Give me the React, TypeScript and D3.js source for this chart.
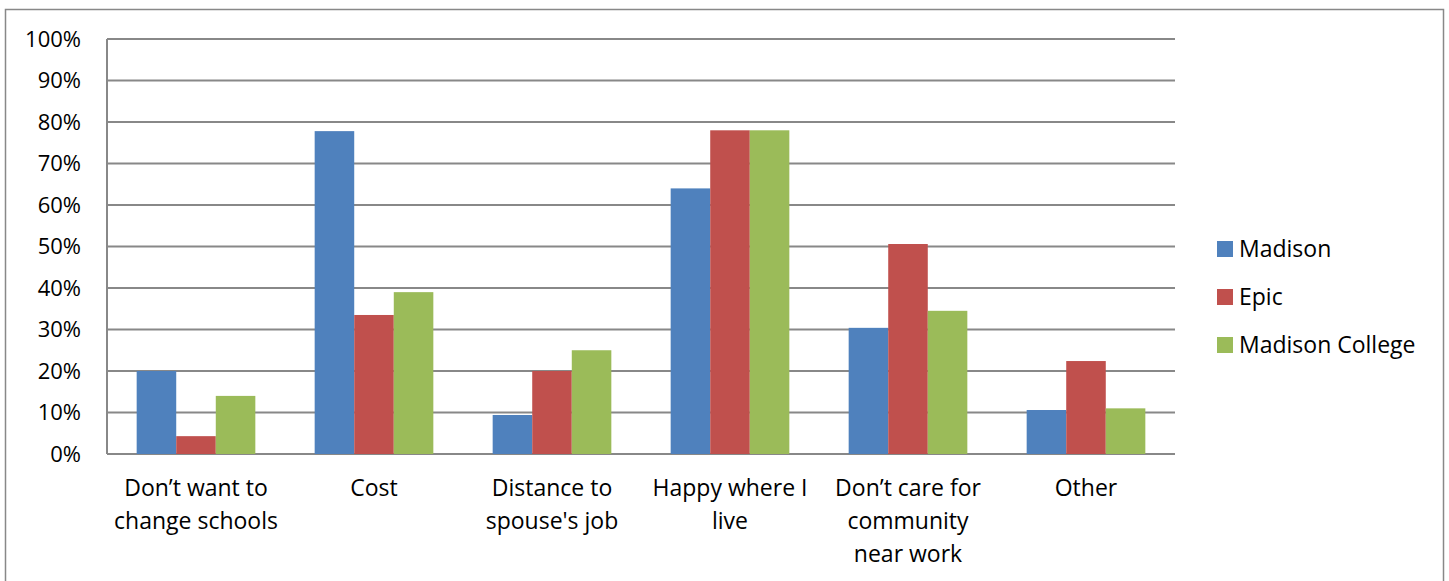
import React from "react";
import * as d3 from "d3";

const categories = [
  ["Don’t want to", "change schools"],
  ["Cost"],
  ["Distance to", "spouse's job"],
  ["Happy where I", "live"],
  ["Don’t care for", "community", "near work"],
  ["Other"],
];
const seriesNames = ["Madison", "Epic", "Madison College"];
const colors = ["#4F81BD", "#C0504D", "#9BBB59"];
const madison = [20, 77.8, 9.4, 64, 30.4, 10.6];
const epic = [4.3, 33.5, 20, 78, 50.6, 22.4];
const madisonCollege = [14, 39, 25, 78, 34.5, 11];
const yTicks = [0, 10, 20, 30, 40, 50, 60, 70, 80, 90, 100];

const W = 1449, H = 581;
const left = 107, right = 1175, top = 39, bottom = 454;
const FONT = "'Open Sans', sans-serif";
const FS = 23;

export default function App() {
  const series = [madison, epic, madisonCollege];
  const x0 = d3.scaleBand<number>().domain(d3.range(categories.length)).range([left, right]).paddingInner(0).paddingOuter(0);
  const bw = x0.bandwidth() / 4.5;
  const y = d3.scaleLinear().domain([0, 100]).range([bottom, top]);

  return (
    <svg width={W} height={H} style={{ position: "absolute", left: 0, top: 0, background: "#fff" }}>
      <rect x={5.5} y={9.5} width={1438} height={600} fill="#fff" stroke="#888" strokeWidth={1.5} />
      {yTicks.map((t) => (
        <g key={t}>
          <line x1={left} x2={right} y1={y(t)} y2={y(t)} stroke="#888" strokeWidth={2} />
          <text x={81} y={y(t)} dy="0.35em" textAnchor="end" fontFamily={FONT} fontSize={FS - 1} fill="#000">
            {t}%
          </text>
        </g>
      ))}
      <line x1={left} x2={left} y1={top} y2={bottom} stroke="#888" strokeWidth={2} />
      {categories.map((c, i) => (
        <g key={i}>
          {series.map((s, k) => (
            <rect
              key={k}
              x={(x0(i) as number) + bw * 0.75 + k * bw}
              y={y(s[i])}
              width={bw}
              height={bottom - y(s[i])}
              fill={colors[k]}
            />
          ))}
          {c.map((line, j) => (
            <text
              key={j}
              x={(x0(i) as number) + x0.bandwidth() / 2}
              y={496 + j * 33}
              textAnchor="middle"
              fontFamily={FONT}
              fontSize={FS}
              fill="#000"
            >
              {line}
            </text>
          ))}
        </g>
      ))}
      {seriesNames.map((n, k) => (
        <g key={n}>
          <rect x={1217} y={241 + k * 48} width={16} height={16} fill={colors[k]} />
          <text x={1239} y={249 + k * 48} dy="0.35em" fontFamily={FONT} fontSize={FS} fill="#000">
            {n}
          </text>
        </g>
      ))}
    </svg>
  );
}
